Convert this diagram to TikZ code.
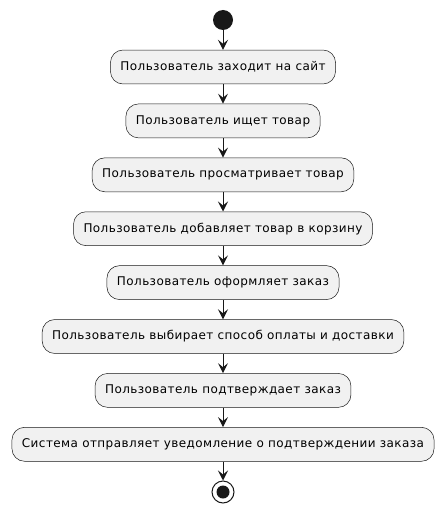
\documentclass[tikz,border=0pt]{standalone}
\usepackage{fontspec}
\setmainfont{DejaVu Sans}[LetterSpace=3.5]
\usetikzlibrary{arrows.meta}
\definecolor{lineclr}{HTML}{181818}
\definecolor{boxfill}{HTML}{F1F1F1}
\begin{document}
\begin{tikzpicture}[x=1pt,y=-1pt,
  actbox/.style={draw=lineclr, fill=boxfill, line width=0.5pt, rounded corners=12.5pt,
    minimum height=33.9pt, inner xsep=10pt, inner ysep=0pt, font=\fontsize{12}{14}\selectfont, text=black},
  flow/.style={draw=lineclr, line width=1pt, -{Stealth[length=10pt,width=10pt,inset=4pt]}}]
\useasboundingbox (0,0) rectangle (445,513);
\fill[lineclr] (223,20) circle (10);
\coordinate (start) at (223,30);
\node[actbox] (a1) at (223,67) {Пользователь заходит на сайт};
\node[actbox] (a2) at (223,120.9) {Пользователь ищет товар};
\node[actbox] (a3) at (223,174.8) {Пользователь просматривает товар};
\node[actbox] (a4) at (223,228.7) {Пользователь добавляет товар в корзину};
\node[actbox] (a5) at (223,282.6) {Пользователь оформляет заказ};
\node[actbox] (a6) at (223,336.5) {Пользователь выбирает способ оплаты и доставки};
\node[actbox] (a7) at (223,390.4) {Пользователь подтверждает заказ};
\node[actbox] (a8) at (223,444.3) {Система отправляет уведомление о подтверждении заказа};
\node[circle, draw=lineclr, line width=1pt, fill=white, minimum size=22pt, inner sep=0pt] (stop) at (223,492) {};
\fill[lineclr] (stop.center) circle (6.5);
\draw[flow] (start) -- (a1);
\draw[flow] (a1) -- (a2);
\draw[flow] (a2) -- (a3);
\draw[flow] (a3) -- (a4);
\draw[flow] (a4) -- (a5);
\draw[flow] (a5) -- (a6);
\draw[flow] (a6) -- (a7);
\draw[flow] (a7) -- (a8);
\draw[flow] (a8) -- (stop);
\end{tikzpicture}
\end{document}
